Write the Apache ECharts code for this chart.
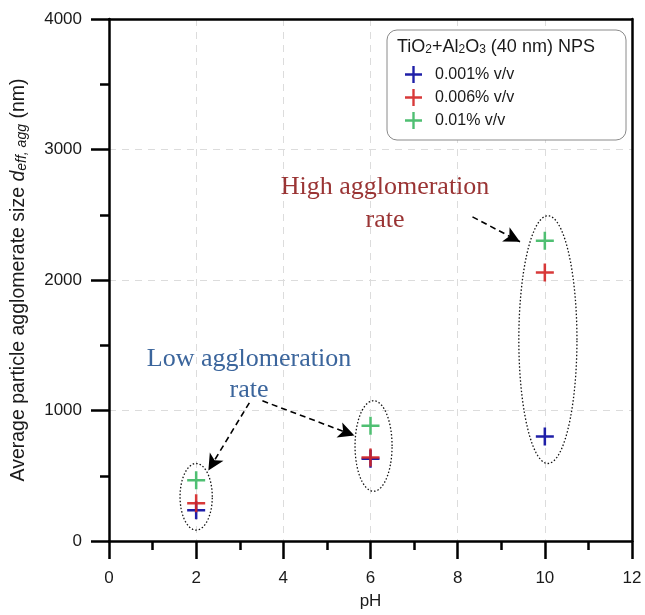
<!DOCTYPE html>
<html>
<head>
<meta charset="utf-8">
<script src="https://cdn.jsdelivr.net/npm/echarts@6/dist/echarts.min.js"></script>
<style>
html,body{margin:0;padding:0;background:#fff;}
#chart{width:645px;height:615px;}
</style>
</head>
<body>
<div id="chart"></div>
<script>
// ---- data ----
const phValues = [2, 6, 10];
const size001 = [236, 630, 800];
const size006 = [290, 640, 2057];
const size01 = [465, 884, 2301];
const seriesNames = ['0.001% v/v', '0.006% v/v', '0.01% v/v'];
const xTicks = [0, 2, 4, 6, 8, 10, 12];
const yTicks = [0, 1000, 2000, 3000, 4000];
// annotation ellipses (data units): [centerX, centerY, radiusX, radiusY]
const ellipses = [[2.0, 339, 0.37, 255], [6.07, 728, 0.425, 347], [10.07, 1543, 0.667, 949]];
// annotation arrows (data units)
const arrows = [
  [[8.34, 2484], [9.43, 2293]],
  [[3.52, 1074], [5.63, 808]],
  [[3.22, 1059], [2.28, 541]]
];

const plusPath = 'path://M8.6,0H11.4V8.6H20V11.4H11.4V20H8.6V11.4H0V8.6H8.6Z';
const colors = ['#1f1fa8', '#d42424', '#4fbf72'];

const chart = echarts.init(document.getElementById('chart'), null, {renderer: 'canvas'});

function pts(xs, ys) { return xs.map((x, i) => [x, ys[i]]); }

const FF = 'Liberation Sans, Arial, sans-serif';
const axisFont = {fontFamily: FF, fontSize: 17, color: '#1a1a1a'};
const blackLine = {color: '#000', width: 2.5};

const option = {
  animation: false,
  backgroundColor: '#fff',
  grid: {left: 109, right: 13, top: 19, bottom: 71},
  xAxis: [{
    type: 'value', min: xTicks[0], max: xTicks[xTicks.length - 1], interval: 2,
    name: 'pH', nameLocation: 'middle', nameGap: 52,
    nameTextStyle: axisFont,
    axisLine: {show: true, onZero: false, lineStyle: blackLine},
    axisTick: {show: true, inside: false, length: 18, lineStyle: blackLine},
    minorTick: {show: true, splitNumber: 2, length: 9, lineStyle: blackLine},
    axisLabel: Object.assign({margin: 29}, axisFont),
    splitLine: {show: true, lineStyle: {color: '#dcdcdc', type: [7, 6], width: 1}}
  }, {
    type: 'value', position: 'top', min: xTicks[0], max: xTicks[xTicks.length - 1], interval: 2, z: 5,
    axisLine: {show: true, onZero: false, lineStyle: blackLine},
    axisTick: {show: false}, axisLabel: {show: false}, splitLine: {show: false}
  }],
  yAxis: [{
    type: 'value', min: yTicks[0], max: yTicks[yTicks.length - 1], interval: 1000,
    name: 'Average particle agglomerate size {it|d}{sub|eff, agg} (nm)',
    nameLocation: 'middle', nameGap: 80,
    nameTextStyle: {
      fontFamily: FF, fontSize: 19.5, color: '#1a1a1a',
      rich: {
        it: {fontFamily: FF, fontSize: 19.5, fontStyle: 'italic', color: '#1a1a1a'},
        sub: {fontFamily: FF, fontSize: 14, fontStyle: 'italic', color: '#1a1a1a', verticalAlign: 'bottom', lineHeight: 13}
      }
    },
    axisLine: {show: true, onZero: false, lineStyle: blackLine},
    axisTick: {show: true, inside: false, length: 18, lineStyle: blackLine},
    minorTick: {show: true, splitNumber: 2, length: 9, lineStyle: blackLine},
    axisLabel: Object.assign({margin: 27, formatter: function (v) { return String(v); }}, axisFont),
    splitLine: {show: true, lineStyle: {color: '#dcdcdc', type: [7, 6], width: 1}}
  }, {
    type: 'value', position: 'right', min: yTicks[0], max: yTicks[yTicks.length - 1], interval: 1000, z: 5,
    axisLine: {show: true, onZero: false, lineStyle: blackLine},
    axisTick: {show: false}, axisLabel: {show: false}, splitLine: {show: false}
  }],
  legend: {
    orient: 'vertical', left: 405, top: 66, padding: 0, z: 10,
    itemWidth: 17, itemHeight: 17, itemGap: 6,
    icon: plusPath,
    data: seriesNames,
    textStyle: {fontFamily: FF, fontSize: 16, color: '#1a1a1a', padding: [0, 0, 0, 8]}
  },
  graphic: [
    {type: 'rect', z: 3, shape: {x: 387, y: 30, width: 239, height: 110, r: 10}, style: {fill: '#fff', stroke: '#8a8a8a', lineWidth: 1}},
    {type: 'text', z: 4, left: 397, top: 38, style: {
      text: 'TiO{s|2}+Al{s|2}O{s|3} (40 nm) NPS',
      font: '18px Liberation Sans, Arial, sans-serif', fill: '#1a1a1a',
      rich: {s: {fontSize: 12, fontFamily: FF, verticalAlign: 'bottom', lineHeight: 12, fill: '#1a1a1a'}}
    }},
    {type: 'text', z: 4, x: 385, y: 204, style: {
      text: 'High agglomeration\nrate', align: 'center', verticalAlign: 'middle', lineHeight: 33,
      font: '26px Liberation Serif, Times New Roman, serif', fill: '#9a3434'
    }},
    {type: 'text', z: 4, x: 249, y: 375, style: {
      text: 'Low agglomeration\nrate', align: 'center', verticalAlign: 'middle', lineHeight: 31,
      font: '26px Liberation Serif, Times New Roman, serif', fill: '#3b659c'
    }}
  ],
  series: [
    {
      type: 'custom', name: 'ellipses', silent: true, z: 1, clip: false,
      data: ellipses,
      renderItem: function (params, api) {
        const cx = api.value(0), cy = api.value(1), rx = api.value(2), ry = api.value(3);
        const points = [];
        for (let i = 0; i <= 120; i++) {
          const t = 2 * Math.PI * i / 120;
          points.push(api.coord([cx + rx * Math.cos(t), cy + ry * Math.sin(t)]));
        }
        return {type: 'polygon', shape: {points: points}, style: {fill: null, stroke: '#111', lineWidth: 1.3, lineDash: [1.5, 2]}};
      },
      markLine: {
        silent: true, symbol: ['none', 'arrow'], symbolSize: [12, 16],
        label: {show: false},
        lineStyle: {color: '#000', width: 1.6, type: [6, 4]},
        data: arrows.map(a => [{coord: a[0]}, {coord: a[1]}])
      }
    },
    {type: 'scatter', name: seriesNames[0], data: pts(phValues, size001), symbol: plusPath, symbolSize: 18, itemStyle: {color: colors[0], opacity: 1}, z: 5},
    {type: 'scatter', name: seriesNames[1], data: pts(phValues, size006), symbol: plusPath, symbolSize: 18, itemStyle: {color: colors[1], opacity: 0.9}, z: 6},
    {type: 'scatter', name: seriesNames[2], data: pts(phValues, size01), symbol: plusPath, symbolSize: 18, itemStyle: {color: colors[2], opacity: 1}, z: 7}
  ]
};
chart.setOption(option);
</script>
</body>
</html>
